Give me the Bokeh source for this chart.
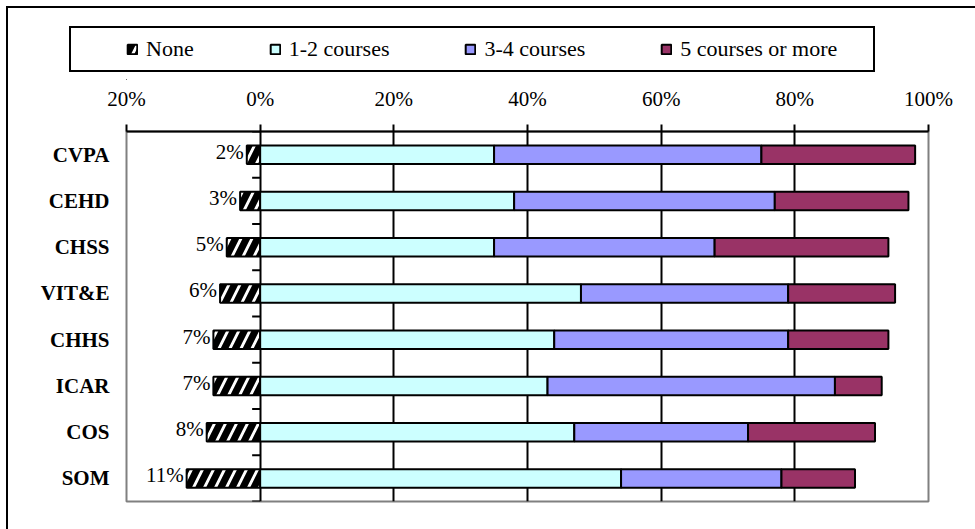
from bokeh.plotting import figure
from bokeh.layouts import column
from bokeh.models import (ColumnDataSource, FactorRange, Range1d, FixedTicker,
                          Legend, LegendItem)
from bokeh.embed import file_html
from bokeh.resources import INLINE
from bokeh.core.properties import value

# Share of students by number of courses taken, per college (percent)
colleges = ["CVPA", "CEHD", "CHSS", "VIT&E", "CHHS", "ICAR", "COS", "SOM"]
none_pct = [2, 3, 5, 6, 7, 7, 8, 11]
one_two = [35, 38, 35, 48, 44, 43, 47, 54]
three_four = [40, 39, 33, 31, 35, 43, 26, 24]
five_plus = [23, 20, 26, 16, 15, 7, 19, 11]

series_names = ["None", "1-2 courses", "3-4 courses", "5 courses or more"]
series_colors = ["#FFFFFF", "#CCFFFF", "#9999FF", "#993366"]

tick_values = [-20, 0, 20, 40, 60, 80, 100]
tick_labels = ["20%", "0%", "20%", "40%", "60%", "80%", "100%"]

SERIF = "Liberation Serif"
W, H, HEAD = 975, 529, 80

# shared bar styling per series
bar_styles = [
    dict(fill_color=series_colors[0], hatch_pattern="/", hatch_color="black",
         hatch_weight=7, hatch_scale=22, line_color="black", line_width=2),
    dict(fill_color=series_colors[1], line_color="black", line_width=2),
    dict(fill_color=series_colors[2], line_color="black", line_width=2),
    dict(fill_color=series_colors[3], line_color="black", line_width=2),
]

# "None" extends to the left of zero, the rest stack to the right
b_end = [a + b for a, b in zip(one_two, three_four)]
c_end = [e + c for e, c in zip(b_end, five_plus)]
src = ColumnDataSource(dict(
    college=colleges,
    none_left=[-v for v in none_pct],
    zero=[0] * len(colleges),
    a_right=one_two,
    b_right=b_end,
    c_right=c_end,
    label=[f"{v}%" for v in none_pct],
))

# ---- legend strip -------------------------------------------------------
head = figure(width=W, height=HEAD, title=None,
              x_range=Range1d(0, 1), y_range=Range1d(0, 1),
              x_axis_location=None, y_axis_location=None,
              output_backend="svg", toolbar_location=None,
              min_border=0)
head.xgrid.grid_line_color = None
head.ygrid.grid_line_color = None
head.outline_line_color = None
head.outline_line_alpha = 0
head.background_fill_color = None
head.border_fill_color = None
# key swatches: one placeholder bar each, kept well outside the visible range
key_renderers = [head.hbar(y=[-50], left=[-50], right=[-49], height=1, **st)
                 for st in bar_styles]
legend = Legend(items=[LegendItem(label=n, renderers=[r])
                       for n, r in zip(series_names, key_renderers)],
                orientation="horizontal", location=(0, 18),
                padding=0, margin=0, spacing=75, label_standoff=8,
                glyph_width=12, glyph_height=12,
                border_line_color=None, background_fill_alpha=0,
                label_text_font=SERIF, label_text_font_size="22px",
                label_text_color="black")
head.add_layout(legend)

# ---- chart --------------------------------------------------------------
p = figure(width=W, height=H - HEAD, title=None,
           x_range=Range1d(tick_values[0], tick_values[-1]),
           y_range=FactorRange(factors=list(reversed(colleges))),
           x_axis_location="above",
           output_backend="svg", toolbar_location=None,
           min_border_left=126, min_border_right=47,
           min_border_top=131 - HEAD, min_border_bottom=28)
p.background_fill_color = "white"
p.border_fill_color = None
p.outline_line_color = "#808080"
p.outline_line_width = 2

# value axis along the top
xa = p.xaxis[0]
xa.ticker = FixedTicker(ticks=tick_values)
xa.major_label_overrides = dict(zip(tick_values, tick_labels))
xa.axis_line_color = "black"
xa.axis_line_width = 2
xa.major_tick_line_color = "black"
xa.major_tick_line_width = 2
xa.major_tick_out = 7
xa.major_tick_in = 0
xa.minor_tick_line_color = None
xa.major_label_standoff = 14
xa.major_label_text_font = SERIF
xa.major_label_text_font_size = "21px"
xa.major_label_text_color = "black"

# college names
ya = p.yaxis[0]
ya.axis_line_color = None
ya.major_tick_line_color = None
ya.major_tick_out = 0
ya.major_tick_in = 0
ya.minor_tick_line_color = None
ya.major_label_standoff = 17
ya.major_label_text_font = SERIF
ya.major_label_text_font_size = "21px"
ya.major_label_text_font_style = "bold"
ya.major_label_text_color = "black"

p.xgrid.ticker = FixedTicker(ticks=tick_values[1:-1])
p.xgrid.grid_line_color = "black"
p.xgrid.grid_line_width = 2
p.ygrid.grid_line_color = None

# short ticks on the zero line between categories
bounds = list(range(len(colleges) + 1))
p.segment(x0=[-1.2] * len(bounds), y0=bounds, x1=[0] * len(bounds), y1=bounds,
          line_color="black", line_width=2)

bar_h = 0.4
p.hbar(y="college", left="none_left", right="zero", height=bar_h, source=src, **bar_styles[0])
p.hbar(y="college", left="zero", right="a_right", height=bar_h, source=src, **bar_styles[1])
p.hbar(y="college", left="a_right", right="b_right", height=bar_h, source=src, **bar_styles[2])
p.hbar(y="college", left="b_right", right="c_right", height=bar_h, source=src, **bar_styles[3])

p.text(x="none_left", y="college", text="label", source=src,
       text_align="right", text_baseline="middle", x_offset=-3, y_offset=-3,
       text_font=value(SERIF), text_font_size="21px", text_color="black")

# chart-area border (top and left edges) and the frame round the legend,
# painted behind the transparent canvases; the page is pinned to the
# window corner so it never overflows
_line = "linear-gradient(#000, #000)"
page = column(head, p, spacing=0)
page.styles = {
    "position": "fixed",
    "left": "0px",
    "top": "0px",
    "background-color": "white",
    "background-image": ", ".join([_line] * 6),
    "background-repeat": "no-repeat",
    "background-position": "6px 6px, 6px 6px, 69px 26px, 69px 70px, 69px 26px, 873px 26px",
    "background-size": "2px 1000px, 1200px 2px, 806px 2px, 806px 2px, 2px 46px, 2px 46px",
}

open("out.html", "w").write(file_html(page, INLINE))
